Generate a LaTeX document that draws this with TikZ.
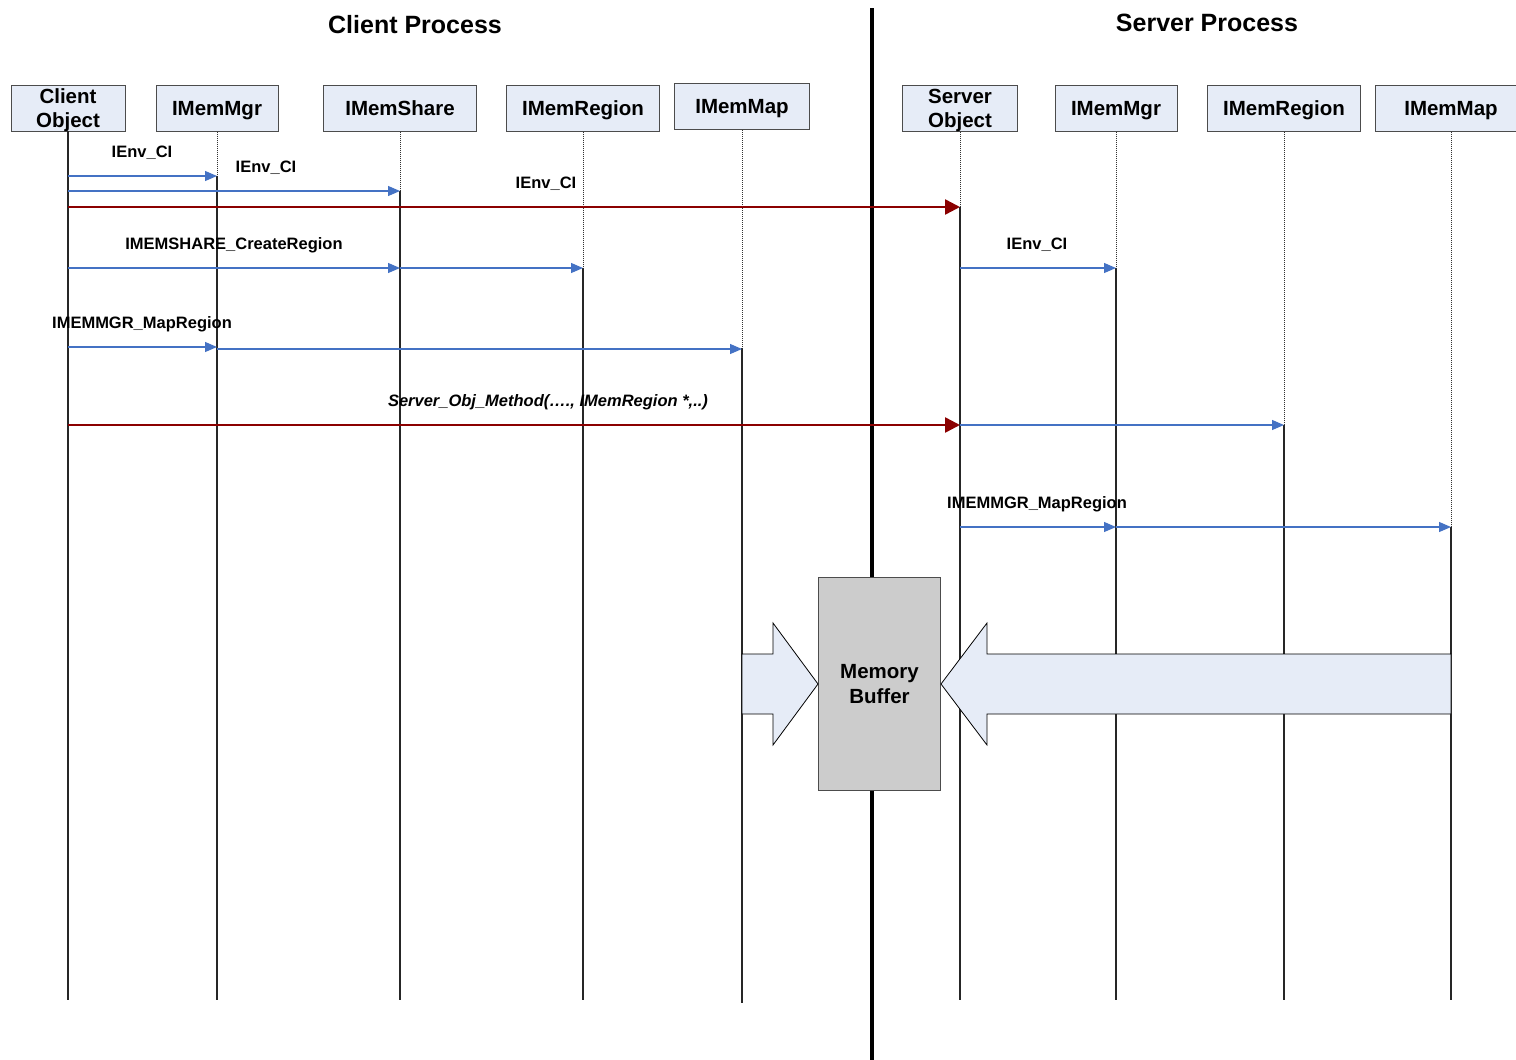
\documentclass[tikz,border=0pt]{standalone}
\usepackage{fontspec}
\setmainfont{Liberation Sans}
\usetikzlibrary{positioning, arrows.meta}
\tikzstyle{diagram} = [x = 1pt, y = -1pt]
\definecolor{boxColor}{RGB}{230,236,247}
\definecolor{callColor}{RGB}{68,114,196}
\definecolor{remoteColor}{RGB}{139,0,0}
\definecolor{bufferColor}{RGB}{204,204,204}
\tikzstyle{objectBox} = [draw=black!70, fill=boxColor, line width = 1pt, minimum height = 46pt, inner sep = 0pt, text depth = 0pt, align = center, font=\fontsize{20.5}{24}\selectfont\bfseries]
\tikzstyle{bufferBox} = [draw=black!70, fill=bufferColor, line width = 1pt, minimum width = 122pt, minimum height = 213pt, inner sep = 0pt, align = center, font=\fontsize{20.5}{25}\selectfont\bfseries]
\tikzstyle{activeLine} = [color=black!85, line width = 1.5pt]
\tikzstyle{idleLine} = [color=black!80, densely dotted, line width = 1pt]
\tikzstyle{localCall} = [color=callColor, line width = 1.2pt, -{Triangle[length=12pt, width=10pt]}]
\tikzstyle{remoteCall} = [color=remoteColor, line width = 2.5pt, -{Triangle[length=15pt, width=15pt]}]
\tikzstyle{callText} = [anchor = base, inner sep = 0pt, font=\fontsize{16.5}{19}\selectfont\bfseries]
\tikzstyle{titleText} = [inner sep = 0pt, font=\fontsize{25}{29}\selectfont\bfseries]
\tikzstyle{blockArrow} = [draw=black, fill=boxColor, line width = 0.8pt]
\newcommand{\objectNode}[5]{\node [objectBox, minimum width = #4pt] (#1) at (#2, #3) {#5};}
\newcommand{\lifeLine}[3]{
  \draw [idleLine] (#1.south) -- (#1 |- 0,#2);
  \draw [activeLine] (#1 |- 0,#2) -- (#1 |- 0,#3);
}
\newcommand{\callArrow}[4]{\draw [#1] (#2 |- 0,#4) -- (#3 |- 0,#4);}

\begin{document}
\begin{tikzpicture}[diagram]
      \useasboundingbox (0,0) rectangle (1516,1060);

      % process titles
      \node [titleText] (clientTitle) at (415, 25) {Client Process};
      \node [titleText] (serverTitle) at (1207, 23) {Server Process};

      % client side objects
      \objectNode{client}{68}{108}{114}{Client\\Object}
      \objectNode{cMgr}{217}{108}{122}{IMemMgr}
      \objectNode{cShare}{400}{108}{153}{IMemShare}
      \objectNode{cRegion}{583}{108}{153}{IMemRegion}
      \objectNode{cMap}{742}{106.5}{135}{IMemMap}

      % server side objects
      \objectNode{server}{960}{108}{115}{Server\\Object}
      \objectNode{sMgr}{1116}{108}{122}{IMemMgr}
      \objectNode{sRegion}{1284}{108}{153}{IMemRegion}
      \objectNode{sMap}{1451}{108}{152}{IMemMap}

      \foreach \obj/\start/\stop in {client/131/1000, cMgr/176/1000, cShare/191/1000, cRegion/268/1000, cMap/348/1003,
        server/207/1000, sMgr/268/1000, sRegion/425/1000, sMap/527/1000} {
        \lifeLine{\obj}{\start}{\stop}
      }

      \draw [line width = 4pt] (872, 8) -- (872, 1060);

      % calls
      \callArrow{localCall}{client}{cMgr}{176}
      \callArrow{localCall}{client}{cShare}{191}
      \callArrow{remoteCall}{client}{server}{207}
      \callArrow{localCall}{client}{cShare}{268}
      \callArrow{localCall}{cShare}{cRegion}{268}
      \callArrow{localCall}{server}{sMgr}{268}
      \callArrow{localCall}{client}{cMgr}{347}
      \callArrow{localCall}{cMgr}{cMap}{349}
      \callArrow{remoteCall}{client}{server}{425}
      \callArrow{localCall}{server}{sRegion}{425}
      \callArrow{localCall}{server}{sMgr}{527}
      \callArrow{localCall}{sMgr}{sMap}{527}

      \node [callText] (envA) at (142, 157) {IEnv\_CI};
      \node [callText] (envB) at (266, 172) {IEnv\_CI};
      \node [callText] (envC) at (546, 188) {IEnv\_CI};
      \node [callText] (createRegion) at (234, 249) {IMEMSHARE\_CreateRegion};
      \node [callText] (envD) at (1037, 249) {IEnv\_CI};
      \node [callText] (mapRegionA) at (142, 328) {IMEMMGR\_MapRegion};
      \node [callText, font=\fontsize{16.5}{19}\selectfont\bfseries\itshape] (serverMethod) at (548, 406) {Server\_Obj\_Method(…., IMemRegion *,..)};
      \node [callText] (mapRegionB) at (1037, 508) {IMEMMGR\_MapRegion};

      % shared buffer
      \node [bufferBox] (buffer) at (879.5, 684) {Memory\\Buffer};
      \draw [blockArrow] (cMap |- 0,654) -- (773, 654) -- (773, 623) -- (buffer.west) -- (773, 745) -- (773, 714) -- (cMap |- 0,714) -- cycle;
      \draw [blockArrow] (buffer.east) -- (987, 623) -- (987, 654) -- (sMap |- 0,654) -- (sMap |- 0,714) -- (987, 714) -- (987, 745) -- cycle;
    \end{tikzpicture}
\end{document}
